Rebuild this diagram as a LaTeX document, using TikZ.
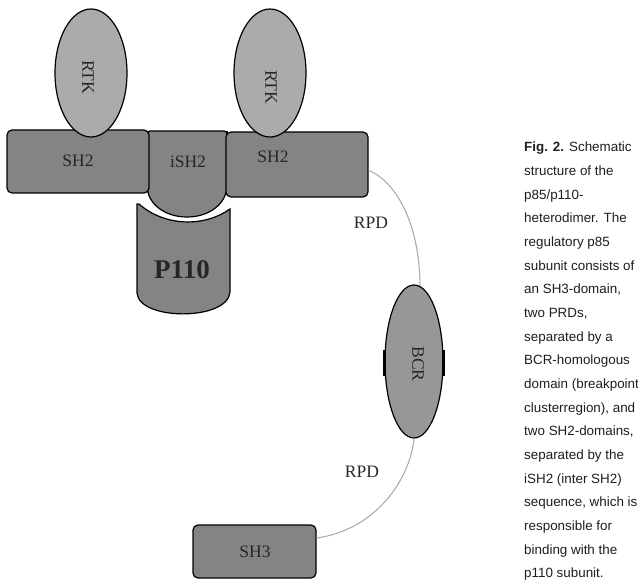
\documentclass[tikz,border=0pt]{standalone}
\usepackage{fontspec}
\setmainfont{Liberation Serif}
\newfontfamily\capfont{Liberation Sans}
\usepackage{tikz}
\usepackage{xcolor}
\usetikzlibrary{shapes.geometric,positioning}
\definecolor{DomainGrey}{HTML}{848484}
\definecolor{RtkGrey}{HTML}{ABABAB}
\definecolor{BcrGrey}{HTML}{979797}
\definecolor{LinkerGrey}{HTML}{A6A6A6}
\definecolor{CapText}{HTML}{1E1E1E}
\tikzset{
    domainbox/.style={
        draw=black, fill=DomainGrey, line width=1.2pt,
        rounded corners=5pt, inner sep=0pt
    },
    rtkoval/.style={
        ellipse, draw=black, fill=RtkGrey, line width=1.2pt,
        minimum width=72pt, minimum height=128pt, inner sep=0pt
    },
    bcroval/.style={
        ellipse, draw=black, fill=BcrGrey, line width=1.2pt,
        minimum width=58pt, minimum height=153pt, inner sep=0pt
    },
    linker/.style={
        draw=LinkerGrey, line width=1pt
    },
    domainlabel/.style={
        font=\fontsize{17.5}{17.5}\selectfont, text=black!85, inner sep=0pt
    },
    caption/.style={
        font=\capfont\fontsize{13.4}{16}\selectfont, text=CapText,
        anchor=base west, inner sep=0pt
    },
}
\begin{document}
\begin{tikzpicture}[x=1pt,y=-1pt]
    \useasboundingbox (0,0) rectangle (638,583);

    % iSH2 between the two SH2 domains
    \draw[fill=DomainGrey, line width=1.2pt, rounded corners=3pt] (147,186) -- (147,131) -- (227,131) -- (227,186);
    \fill[DomainGrey] (147,186) -- (147,133) -- (227,133) -- (227,186) .. controls (227,204) and (209,217) .. (187,217) .. controls (165,217) and (147,204) .. (147,186) -- cycle;
    \draw[line width=1.2pt] (227,185) .. controls (227,204) and (209,217) .. (187,217) .. controls (165,217) and (147,204) .. (147,185);
    \draw[line width=1.2pt] (147,131) -- (147,186);
    \draw[line width=1.2pt] (227,131) -- (227,186);

    % SH2 domains
    \node[domainbox, minimum width=142pt, minimum height=63pt] (sh2L) at (78,161.5) {};
    \node[domainbox, minimum width=142pt, minimum height=65pt] (sh2R) at (297,164.5) {};

    % RTK docking
    \node[rtkoval] (rtkL) at (91,73) {};
    \node[rtkoval] (rtkR) at (270,73) {};

    % P110 subunit
    \draw[fill=DomainGrey, line width=1.2pt] (139,204) .. controls (165,227) and (205,227) .. (230,209) -- (230,292) .. controls (228,321) and (139,321) .. (137,293) -- (137,204) -- cycle;

    % linkers
    \draw[linker] ([yshift=-6pt]sh2R.east) .. controls (390,178) and (420,215) .. (420,288) coordinate (rpdA);
    \node[bcroval] (bcr) at (414,361.5) {};
    \draw[line width=3pt] ([yshift=12pt]bcr.west) -- ([yshift=-14pt]bcr.west);
    \draw[line width=3pt] ([yshift=12pt]bcr.east) -- ([yshift=-14pt]bcr.east);
    \node[domainbox, minimum width=123pt, minimum height=53pt] (sh3) at (254.5,551.5) {};
    \draw[linker] (bcr.south) .. controls (410,480) and (375,530) .. ([yshift=13.5pt]sh3.east);

    % labels
    \node[domainlabel] (tSh2L) at (78,161) {SH2};
    \node[domainlabel] (tIsh2) at (188,162) {iSH2};
    \node[domainlabel] (tSh2R) at (273,157) {SH2};
    \node[domainlabel, rotate=-90] (tRtkL) at (88,77) {RTK};
    \node[domainlabel, rotate=-90] (tRtkR) at (271,87) {RTK};
    \node[domainlabel, font=\fontsize{27}{27}\selectfont\bfseries] (tP110) at (182,270) {P110};
    \node[domainlabel] (tRpdA) at (371,223) {RPD};
    \node[domainlabel, rotate=-90] (tBcr) at (418,364) {BCR};
    \node[domainlabel] (tRpdB) at (362,472) {RPD};
    \node[domainlabel] (tSh3) at (255,552) {SH3};

    % figure caption
    \foreach \ln [count=\i] in {{\textbf{Fig. 2.} Schematic},{structure of the},{p85/p110-},{heterodimer. The},{regulatory p85},{subunit consists of},{an SH3-domain,},{two PRDs,},{separated by a},{BCR-homologous},{domain (breakpoint},{clusterregion), and},{two SH2-domains,},{separated by the},{iSH2 (inter SH2)},{sequence, which is},{responsible for},{binding with the},{p110 subunit.}}
        \node[caption] (cap\i) at (524,{152+23.65*(\i-1)}) {\ln};
\end{tikzpicture}
\end{document}
